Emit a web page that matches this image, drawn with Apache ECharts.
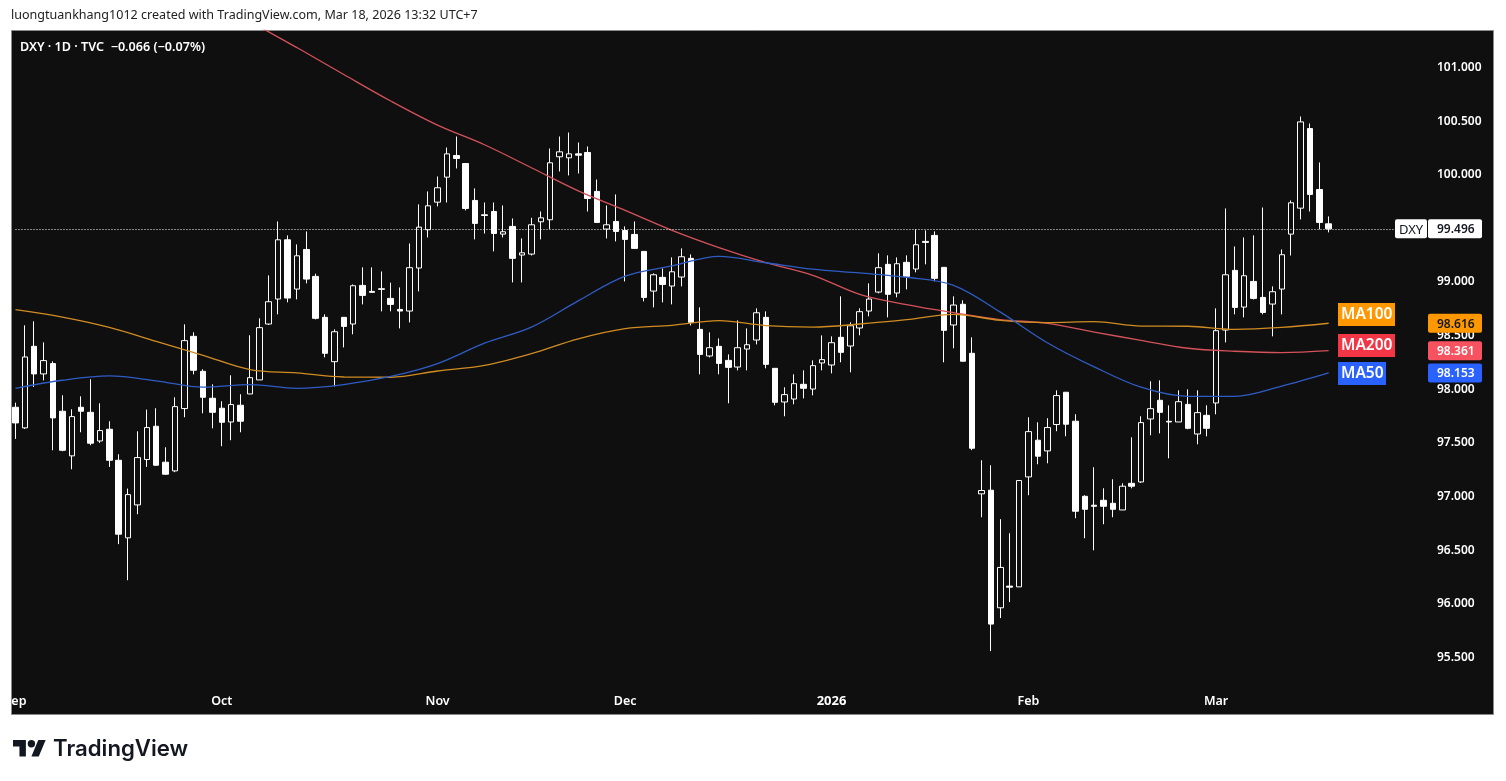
<!DOCTYPE html>
<html>
<head>
<meta charset="utf-8">
<title>DXY</title>
<script src="https://cdn.jsdelivr.net/npm/echarts@6/dist/echarts.min.js"></script>
<style>
html, body { margin: 0; padding: 0; background: #fff; }
#main { width: 1506px; height: 781px; }
</style>
</head>
<body>
<div id="main"></div>
<script>
// daily candles, oldest first
var opens = [97.833,97.641,98.401,98.144,98.24,97.796,97.38,97.833,97.786,97.519,97.628,97.339,96.616,96.923,97.346,97.656,97.321,97.24,97.821,98.494,
 98.168,97.917,97.824,97.696,97.852,97.957,98.088,98.609,98.842,99.394,98.935,99.304,99.053,98.671,98.258,98.671,98.609,98.969,98.913,98.938,
 98.848,98.745,98.73,99.131,99.488,99.745,99.978,100.18,100.105,99.761,99.627,99.658,99.447,99.519,99.252,99.261,99.562,99.581,100.168,100.158,
 100.195,100.208,99.845,99.494,99.565,99.481,99.444,99.286,98.916,99.044,98.963,99.047,99.221,98.559,98.311,98.401,98.27,98.208,98.376,98.46,
 98.671,98.196,97.882,97.91,98.047,98.003,98.246,98.227,98.485,98.404,98.572,98.73,98.907,99.165,98.898,99.184,99.122,99.379,99.435,99.137,
 98.6,98.793,98.336,97.026,97.06,95.964,96.166,96.159,97.184,97.526,97.426,97.672,97.973,97.703,97.003,96.92,96.966,96.938,96.876,97.124,
 97.137,97.724,97.898,97.702,97.696,97.86,97.584,97.758,97.873,98.553,99.109,98.767,99.006,98.857,98.795,98.935,99.447,99.689,100.431,99.863,
 99.543];
var closes = [97.687,98.302,98.144,98.268,97.734,97.432,97.746,97.796,97.498,97.616,97.339,96.65,97.019,97.364,97.644,97.293,97.209,97.839,98.454,98.178,
 97.926,97.786,97.693,97.858,97.703,98.109,98.575,98.817,99.394,98.851,99.245,99.028,98.662,98.336,98.537,98.587,98.966,98.876,98.904,98.932,
 98.792,98.73,99.134,99.512,99.711,99.879,100.195,100.152,99.686,99.547,99.621,99.453,99.469,99.221,99.273,99.534,99.599,100.112,100.214,100.195,
 100.183,99.779,99.556,99.534,99.472,99.398,99.314,98.857,99.068,98.978,99.096,99.236,98.624,98.326,98.388,98.242,98.205,98.388,98.416,98.714,
 98.233,97.879,97.951,98.053,98.01,98.221,98.277,98.435,98.345,98.593,98.724,98.842,99.134,98.886,99.171,99.053,99.348,99.37,99.035,98.55,
 98.786,98.262,97.451,97.057,95.812,96.34,96.156,97.15,97.606,97.377,97.644,97.942,97.675,96.864,96.882,96.91,96.91,96.882,97.097,97.097,
 97.69,97.82,97.786,97.696,97.885,97.637,97.783,97.637,98.547,99.068,98.764,99.059,98.848,98.717,98.91,99.255,99.739,100.493,99.817,99.556,
 99.496];
var lows = [97.538,97.631,98.022,98.084,97.432,97.423,97.255,97.6,97.479,97.501,97.277,96.557,96.221,96.836,97.277,97.285,97.203,97.228,97.74,98.14,
 97.777,97.637,97.47,97.526,97.6,97.957,98.088,98.6,98.699,98.811,98.839,98.988,98.652,98.298,98.028,98.391,98.513,98.792,98.904,98.727,
 98.727,98.568,98.624,98.913,99.416,99.705,99.742,100.059,99.668,99.398,99.453,99.286,99.416,98.997,98.997,99.248,99.398,99.494,100.031,99.994,
 100.012,99.658,99.556,99.407,99.379,99.006,99.314,98.82,98.764,98.811,98.792,98.96,98.596,98.14,98.298,98.14,97.87,98.177,98.177,98.419,
 98.196,97.851,97.749,97.861,97.916,97.944,98.177,98.149,98.252,98.159,98.504,98.681,98.895,98.671,98.858,98.932,99.091,99.165,99.007,98.252,
 98.383,98.262,97.433,96.808,95.56,95.868,96.017,96.159,97.013,97.302,97.311,97.61,97.563,96.799,96.612,96.5,96.743,96.808,96.876,97.078,
 97.128,97.572,97.59,97.357,97.696,97.628,97.488,97.562,97.767,98.438,98.699,98.671,98.838,98.699,98.494,98.699,99.248,99.584,99.658,99.491,
 99.463];
var highs = [97.876,98.597,98.634,98.438,98.261,97.945,97.814,97.935,98.094,97.87,97.703,97.395,97.075,97.609,97.811,97.824,97.46,97.926,98.606,98.532,
 98.187,98.047,97.889,98.131,97.954,98.504,98.662,99.062,99.565,99.435,99.351,99.472,99.078,98.699,98.559,98.671,98.978,99.137,99.137,99.099,
 98.994,98.95,99.36,99.724,99.845,99.984,100.254,100.357,100.105,99.873,99.742,99.742,99.714,99.593,99.407,99.599,99.658,100.245,100.357,100.394,
 100.301,100.264,99.956,99.714,99.817,99.519,99.565,99.286,99.081,99.127,99.23,99.314,99.258,98.764,98.531,98.475,98.326,98.643,98.568,98.755,
 98.727,98.196,98.019,98.14,98.177,98.27,98.503,98.494,98.867,98.624,98.755,98.988,99.268,99.249,99.23,99.249,99.491,99.482,99.473,99.137,
 98.867,98.83,98.485,97.339,97.293,96.79,96.659,97.15,97.74,97.693,97.731,97.991,97.973,97.768,97.013,97.274,97.078,97.162,97.124,97.553,
 97.749,98.075,98.084,97.851,97.991,98.0,97.991,97.851,98.755,99.686,99.332,99.416,99.435,99.695,98.96,99.304,99.761,100.543,100.478,100.115,
 99.612];

// moving averages, one reading every 5 sessions
var maStep = 5;
var ma50 = [98.01,98.085,98.125,98.08,98.02,98.045,98.01,98.045,98.12,98.24,98.43,98.58,98.825,99.055,99.15,99.24,99.18,99.12,99.085,99.045,98.97,98.72,98.435,98.21,98.02,97.935,97.935,98.03,98.153];
var ma100 = [98.743,98.674,98.578,98.448,98.317,98.184,98.153,98.115,98.113,98.171,98.224,98.333,98.471,98.566,98.597,98.641,98.594,98.581,98.609,98.65,98.699,98.643,98.622,98.631,98.59,98.588,98.56,98.578,98.616];
var ma200 = [null,null,null,null,null,101.428,101.186,100.935,100.688,100.463,100.28,100.066,99.85,99.668,99.482,99.321,99.181,99.063,98.886,98.79,98.715,98.65,98.616,98.534,98.457,98.383,98.355,98.343,98.361];

var tickLabels = ['Sep','Oct','Nov','Dec','2026','Feb','Mar'];
var tickSessions = [0,22,45,65,87,108,128];
var priceTicks = { min: 95, max: 101.345, step: 0.5 };
var lastPrice = 99.496;
var emptySessions = 17;

var PANEL = '#0f0f0f';
var AXIS_FONT = '"Noto Sans"';

var categories = [];
for (var i = 0; i < opens.length + emptySessions; i++) {
    var t = tickSessions.indexOf(i);
    categories.push(t >= 0 ? tickLabels[t] : '');
}

var candles = [];
for (var c = 0; c < opens.length; c++) {
    candles.push([opens[c], closes[c], lows[c], highs[c]]);
}

function maData(values) {
    var out = [];
    values.forEach(function(v, n) {
        if (v !== null) out.push([n * maStep, v]);
    });
    return out;
}

function maSeries(name, values, color) {
    return {
        name: name,
        type: 'line',
        data: maData(values),
        smooth: 0.35,
        showSymbol: false,
        silent: true,
        z: 3,
        lineStyle: { color: color, width: 1.3 }
    };
}

var myChart = echarts.init(document.getElementById('main'));

var staticGraphic = [
    { type: 'rect', z: 0, shape: { x: 11.5, y: 30.5, width: 1482, height: 684 },
      style: { fill: PANEL, stroke: '#8a8a8a', lineWidth: 1 } },
    { type: 'rect', z: 50, shape: { x: 0, y: 685, width: 11, height: 28 }, style: { fill: '#fff' } },
    { type: 'text', z: 60, x: 11, y: 9, style: { text: 'luongtuankhang1012 created with TradingView.com, Mar 18, 2026 13:32 UTC+7',
      font: '12.55px ' + AXIS_FONT, fill: '#222' } },
    { type: 'text', z: 60, x: 20, y: 41, style: { text: 'DXY · 1D · TVC  −0.066 (−0.07%)',
      font: '600 12.6px ' + AXIS_FONT, fill: '#fff' } },
    { type: 'polygon', z: 60, x: 13, y: 736.3, scaleX: 0.92, scaleY: 0.92,
      shape: { points: [[0,4],[14,4],[14,22],[7,22],[7,11],[0,11]] }, style: { fill: '#131722' } },
    { type: 'polygon', z: 60, x: 13, y: 736.3, scaleX: 0.92, scaleY: 0.92,
      shape: { points: [[20,22],[27.5,4],[35.5,4],[28,22]] }, style: { fill: '#131722' } },
    { type: 'circle', z: 60, shape: { cx: 31.4, cy: 743.7, r: 3.7 }, style: { fill: '#131722' } },
    { type: 'text', z: 60, x: 53, y: 738, style: { text: 'TradingView', font: '600 22.2px Inter', fill: '#131722' } }
];

myChart.setOption({
    animation: false,
    backgroundColor: '#fff',
    grid: { left: 10.8, right: 13.2, top: 30.5, bottom: 69.8 },
    xAxis: {
        type: 'category',
        data: categories,
        boundaryGap: true,
        axisLine: { show: false },
        axisTick: { show: false },
        splitLine: { show: false },
        axisLabel: {
            interval: function(index, value) { return value !== ''; },
            margin: -16,
            color: '#fff',
            fontFamily: AXIS_FONT,
            fontSize: 12.5,
            fontWeight: 600,
            formatter: function(v) { return v === '2026' ? '{b|2026}' : v; },
            rich: { b: { fontWeight: 'bold', color: '#fff', fontFamily: AXIS_FONT, fontSize: 13 } }
        }
    },
    yAxis: {
        type: 'value',
        position: 'right',
        min: priceTicks.min,
        max: priceTicks.max,
        interval: priceTicks.step,
        scale: true,
        axisLine: { show: false },
        axisTick: { show: false },
        splitLine: { show: false },
        axisLabel: {
            inside: true,
            margin: 55.8,
            align: 'left',
            padding: [2, 0, 0, 0],
            color: '#fff',
            fontFamily: AXIS_FONT,
            fontSize: 12,
            fontWeight: 600,
            formatter: function(v) {
                if (v < 95.5 || v > 101) return '';
                return v.toFixed(3);
            }
        }
    },
    series: [
        maSeries('MA200', ma200, '#d4525a'),
        maSeries('MA100', ma100, '#d08c22'),
        maSeries('MA50', ma50, '#2f5cc4'),
        {
            name: 'DXY',
            type: 'candlestick',
            data: candles,
            barWidth: 6,
            z: 2,
            itemStyle: {
                color: PANEL,
                color0: '#fff',
                borderColor: '#fff',
                borderColor0: '#fff',
                borderWidth: 1
            },
            markLine: {
                silent: true,
                symbol: 'none',
                label: { show: false },
                lineStyle: { color: '#fff', type: [1, 2], width: 1, opacity: 1 },
                data: [[{ coord: [0, lastPrice] }, { coord: [147, lastPrice] }]]
            }
        }
    ],
    graphic: staticGraphic
});

// price tags sit on the axis at their own value
function priceTag(value, fill, textColor) {
    var y = myChart.convertToPixel({ yAxisIndex: 0 }, value);
    return [
        { type: 'rect', z: 70, shape: { x: 1428, y: y - 9.5, width: 54, height: 19, r: 2 }, style: { fill: fill } },
        { type: 'text', z: 71, x: 1437, y: y + 1, style: { text: value.toFixed(3), font: '600 12px ' + AXIS_FONT,
          fill: textColor, align: 'left', verticalAlign: 'middle' } }
    ];
}

function maTag(text, top, width, fill) {
    return [
        { type: 'rect', z: 70, shape: { x: 1338, y: top, width: width, height: 23 }, style: { fill: fill } },
        { type: 'text', z: 71, x: 1341, y: top + 11.5, style: { text: text, font: '600 15.5px ' + AXIS_FONT,
          fill: '#fff', align: 'left', verticalAlign: 'middle' } }
    ];
}

var lastY = myChart.convertToPixel({ yAxisIndex: 0 }, lastPrice);
var tags = [].concat(
    priceTag(lastPrice, '#fff', '#131722'),
    [{ type: 'rect', z: 70, shape: { x: 1395, y: lastY - 9.5, width: 32, height: 19, r: 2 }, style: { fill: '#fff' } },
     { type: 'text', z: 71, x: 1411, y: lastY + 1, style: { text: 'DXY', font: '13px ' + AXIS_FONT, fill: '#131722',
       align: 'center', verticalAlign: 'middle' } }],
    priceTag(ma100[ma100.length - 1], '#ff9800', '#131722'),
    priceTag(ma200[ma200.length - 1], '#f7525f', '#fff'),
    priceTag(ma50[ma50.length - 1], '#2962ff', '#fff'),
    maTag('MA100', 303, 57, '#ff9800'),
    maTag('MA200', 334, 57, '#f23645'),
    maTag('MA50', 362, 48, '#2962ff')
);

myChart.setOption({ graphic: staticGraphic.concat(tags) });
</script>
</body>
</html>
